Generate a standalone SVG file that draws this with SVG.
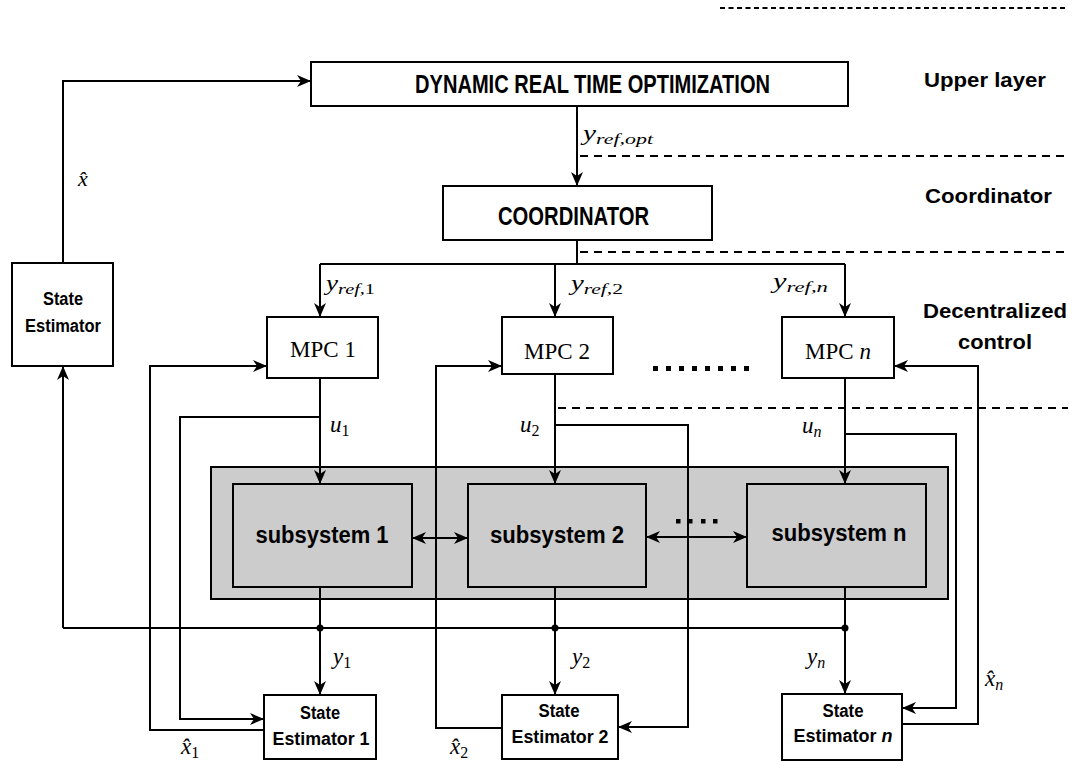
<svg xmlns="http://www.w3.org/2000/svg" width="1074" height="761" viewBox="0 0 1074 761">
  <style>
    .box { fill: #ffffff; stroke: #000000; stroke-width: 2; }
    .sub { fill: #cccccc; stroke: #000000; stroke-width: 2; }
    .wire { fill: none; stroke: #000000; stroke-width: 2; }
    .dash { fill: none; stroke: #000000; stroke-width: 2; stroke-dasharray: 8 6; }
    .dashfine { fill: none; stroke: #000000; stroke-width: 2; stroke-dasharray: 5 3.5; }
    .bold { font-family: "Liberation Sans", Arial, sans-serif; font-weight: bold; fill: #000000; }
    .serif { font-family: "Liberation Serif", "Times New Roman", serif; fill: #000000; }
    .math { font-family: "Liberation Serif", "DejaVu Serif", serif; font-style: italic; fill: #000000; }
  </style>
  <defs>
    <marker id="arrow" markerUnits="userSpaceOnUse" markerWidth="14" markerHeight="12" viewBox="0 0 14 12" refX="14" refY="6" orient="auto-start-reverse">
      <path d="M0,0 L14,6 L0,12 L4,6 z" fill="#000000"/>
    </marker>
  </defs>

  <rect width="1074" height="761" fill="#ffffff"/>

  <!-- layer separators -->
  <g id="separators">
    <line class="dashfine" x1="720" y1="8" x2="1068" y2="8"/>
    <line class="dash" x1="580" y1="156" x2="1068" y2="156"/>
    <line class="dash" x1="580" y1="252" x2="1068" y2="252"/>
    <line class="dash" x1="558" y1="408" x2="1068" y2="408"/>
  </g>

  <!-- plant: interconnected subsystems -->
  <g id="plant">
    <rect class="sub" x="211" y="467" width="737" height="132"/>
  </g>
  <g id="subsystem1">
    <rect class="sub" x="233" y="484" width="179" height="103"/>
    <text class="bold" x="322" y="543" font-size="23" text-anchor="middle" textLength="133" lengthAdjust="spacingAndGlyphs">subsystem 1</text>
  </g>
  <g id="subsystem2">
    <rect class="sub" x="468" y="484" width="178" height="103"/>
    <text class="bold" x="557" y="543" font-size="23" text-anchor="middle" textLength="134" lengthAdjust="spacingAndGlyphs">subsystem 2</text>
  </g>
  <g id="subsystemN">
    <rect class="sub" x="747" y="484" width="179" height="103"/>
    <text class="bold" x="839" y="541" font-size="23" text-anchor="middle" textLength="135" lengthAdjust="spacingAndGlyphs">subsystem n</text>
  </g>

  <!-- connectors -->
  <g id="connectors">
    <path class="wire" d="M63,263 V81 H311" marker-end="url(#arrow)"/>
    <path class="wire" d="M577,106 V186" marker-end="url(#arrow)"/>
    <path class="wire" d="M577,240 V264"/>
    <path class="wire" d="M320,264 H845"/>
    <path class="wire" d="M320,264 V317" marker-end="url(#arrow)"/>
    <path class="wire" d="M555,264 V317" marker-end="url(#arrow)"/>
    <path class="wire" d="M845,264 V317" marker-end="url(#arrow)"/>
    <path class="wire" d="M320,378 V484" marker-end="url(#arrow)"/>
    <path class="wire" d="M555,374 V484" marker-end="url(#arrow)"/>
    <path class="wire" d="M845,378 V484" marker-end="url(#arrow)"/>
    <path class="wire" d="M320,587 V695" marker-end="url(#arrow)"/>
    <path class="wire" d="M555,587 V695" marker-end="url(#arrow)"/>
    <path class="wire" d="M845,587 V694" marker-end="url(#arrow)"/>
    <path class="wire" d="M63,628 H845"/>
    <path class="wire" d="M63,628 V366" marker-end="url(#arrow)"/>
    <path class="wire" d="M320,417 H180 V719 H264" marker-end="url(#arrow)"/>
    <path class="wire" d="M264,730 H150 V366 H267" marker-end="url(#arrow)"/>
    <path class="wire" d="M555,425 H688 V727 H618" marker-end="url(#arrow)"/>
    <path class="wire" d="M502,728 H436 V366 H502" marker-end="url(#arrow)"/>
    <path class="wire" d="M845,434 H956 V708 H902" marker-end="url(#arrow)"/>
    <path class="wire" d="M902,724 H978 V366 H894" marker-end="url(#arrow)"/>
    <path class="wire" d="M412,538 H468" marker-start="url(#arrow)" marker-end="url(#arrow)"/>
    <path class="wire" d="M646,537 H747" marker-start="url(#arrow)" marker-end="url(#arrow)"/>
    <circle cx="320" cy="628" r="3.5" fill="#000000"/>
    <circle cx="555" cy="628" r="3.5" fill="#000000"/>
    <circle cx="845" cy="628" r="3.5" fill="#000000"/>
  </g>

  <!-- ellipsis marks between controllers and between subsystems -->
  <g id="ellipses" fill="#000000">
    <rect x="653" y="366" width="5" height="5"/>
    <rect x="666" y="366" width="5" height="5"/>
    <rect x="679" y="366" width="5" height="5"/>
    <rect x="692" y="366" width="5" height="5"/>
    <rect x="705" y="366" width="5" height="5"/>
    <rect x="718" y="366" width="5" height="5"/>
    <rect x="731" y="366" width="5" height="5"/>
    <rect x="744" y="366" width="5" height="5"/>
    <rect x="676" y="519" width="4.5" height="4.5"/>
    <rect x="688" y="519" width="4.5" height="4.5"/>
    <rect x="701" y="519" width="4.5" height="4.5"/>
    <rect x="713" y="519" width="4.5" height="4.5"/>
  </g>

  <g id="drto">
    <rect class="box" x="311" y="62" width="537" height="44"/>
    <text class="bold" x="415" y="93" font-size="25" textLength="355" lengthAdjust="spacingAndGlyphs">DYNAMIC REAL TIME OPTIMIZATION</text>
  </g>
  <g id="coordinator">
    <rect class="box" x="443" y="186" width="269" height="54"/>
    <text class="bold" x="498" y="225" font-size="25" textLength="151" lengthAdjust="spacingAndGlyphs">COORDINATOR</text>
  </g>
  <g id="stateEstimator">
    <rect class="box" x="12" y="263" width="101" height="103"/>
    <text class="bold" x="63" y="305" font-size="18" text-anchor="middle" textLength="40" lengthAdjust="spacingAndGlyphs">State</text>
    <text class="bold" x="63" y="332" font-size="18" text-anchor="middle" textLength="76" lengthAdjust="spacingAndGlyphs">Estimator</text>
  </g>
  <g id="mpc1">
    <rect class="box" x="267" y="317" width="111" height="61"/>
    <text class="serif" x="323" y="357" font-size="23" text-anchor="middle">MPC 1</text>
  </g>
  <g id="mpc2">
    <rect class="box" x="502" y="317" width="111" height="57"/>
    <text class="serif" x="557" y="359" font-size="23" text-anchor="middle">MPC 2</text>
  </g>
  <g id="mpcN">
    <rect class="box" x="782" y="317" width="112" height="61"/>
    <text class="serif" x="838" y="359" font-size="23" text-anchor="middle">MPC <tspan font-style="italic">n</tspan></text>
  </g>
  <g id="stateEstimator1">
    <rect class="box" x="264" y="695" width="112" height="64"/>
    <text class="bold" x="320" y="719" font-size="18" text-anchor="middle" textLength="40" lengthAdjust="spacingAndGlyphs">State</text>
    <text class="bold" x="321" y="745" font-size="18" text-anchor="middle" textLength="97" lengthAdjust="spacingAndGlyphs">Estimator 1</text>
  </g>
  <g id="stateEstimator2">
    <rect class="box" x="502" y="695" width="116" height="64"/>
    <text class="bold" x="559" y="717" font-size="18" text-anchor="middle" textLength="41" lengthAdjust="spacingAndGlyphs">State</text>
    <text class="bold" x="560" y="743" font-size="18" text-anchor="middle" textLength="97" lengthAdjust="spacingAndGlyphs">Estimator 2</text>
  </g>
  <g id="stateEstimatorN">
    <rect class="box" x="782" y="694" width="120" height="66"/>
    <text class="bold" x="843" y="717" font-size="18" text-anchor="middle" textLength="41" lengthAdjust="spacingAndGlyphs">State</text>
    <text class="bold" x="843" y="742" font-size="18" text-anchor="middle" textLength="99" lengthAdjust="spacingAndGlyphs">Estimator <tspan font-style="italic">n</tspan></text>
  </g>

  <!-- layer names -->
  <g id="layerLabels">
    <text class="bold" x="924" y="87" font-size="21" textLength="122" lengthAdjust="spacingAndGlyphs">Upper layer</text>
    <text class="bold" x="925" y="203" font-size="21" textLength="127" lengthAdjust="spacingAndGlyphs">Coordinator</text>
    <text class="bold" x="995" y="318" font-size="21" text-anchor="middle" textLength="144" lengthAdjust="spacingAndGlyphs">Decentralized</text>
    <text class="bold" x="995" y="349" font-size="21" text-anchor="middle" textLength="74" lengthAdjust="spacingAndGlyphs">control</text>
  </g>

  <!-- signal labels -->
  <g id="signalLabels" class="math">
    <text x="78" y="186" font-size="22">x̂</text>
    <text x="583" y="140" font-size="20" textLength="70" lengthAdjust="spacingAndGlyphs">y<tspan font-size="15" dy="4">ref,opt</tspan></text>
    <text x="326" y="290" font-size="20" textLength="49" lengthAdjust="spacingAndGlyphs">y<tspan font-size="15" dy="4">ref,<tspan font-style="normal">1</tspan></tspan></text>
    <text x="571" y="290" font-size="20" textLength="52" lengthAdjust="spacingAndGlyphs">y<tspan font-size="15" dy="4">ref,<tspan font-style="normal">2</tspan></tspan></text>
    <text x="773" y="288" font-size="20" textLength="55" lengthAdjust="spacingAndGlyphs">y<tspan font-size="15" dy="4">ref,n</tspan></text>
    <text x="330" y="432" font-size="23">u<tspan font-size="16" dy="4" font-style="normal">1</tspan></text>
    <text x="520" y="432" font-size="23">u<tspan font-size="16" dy="4" font-style="normal">2</tspan></text>
    <text x="802" y="433" font-size="23">u<tspan font-size="16" dy="4">n</tspan></text>
    <text x="333" y="664" font-size="23">y<tspan font-size="16" dy="4" font-style="normal">1</tspan></text>
    <text x="572" y="664" font-size="23">y<tspan font-size="16" dy="4" font-style="normal">2</tspan></text>
    <text x="807" y="664" font-size="23">y<tspan font-size="16" dy="4">n</tspan></text>
    <text x="181" y="754" font-size="23">x̂<tspan font-size="16" dy="4" font-style="normal">1</tspan></text>
    <text x="450" y="754" font-size="23">x̂<tspan font-size="16" dy="4" font-style="normal">2</tspan></text>
    <text x="985" y="686" font-size="23">x̂<tspan font-size="16" dy="4">n</tspan></text>
  </g>
</svg>
